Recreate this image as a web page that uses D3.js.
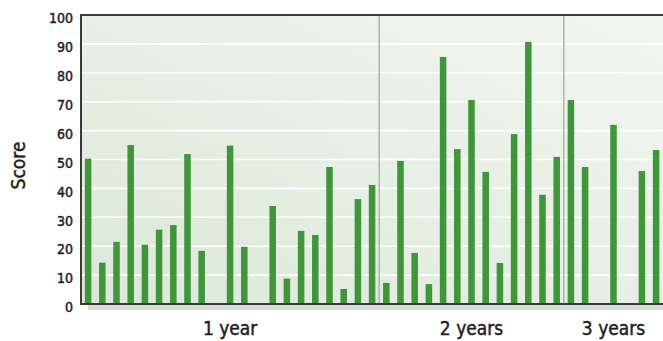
<!DOCTYPE html>
<html>
<head>
<meta charset="utf-8">
<script src="https://cdn.jsdelivr.net/npm/d3@7"></script>
<style>
  html, body { margin: 0; padding: 0; background: #fff; }
  svg { display: block; }
  text {
    font-family: "DejaVu Sans Condensed", "DejaVu Sans", sans-serif;
    fill: #1e1e1e;
    stroke: #1e1e1e;
    stroke-width: 0.45px;
  }
</style>
</head>
<body>
<svg id="chart" width="663" height="341"></svg>
<script>
// Follow-up period of each bar slot (empty slots have a null score)
const periods = ["1 year", "2 years", "3 years"];
const periodOfBar = [
  "1 year","1 year","1 year","1 year","1 year","1 year","1 year","1 year","1 year","1 year","1 year",
  "1 year","1 year","1 year","1 year","1 year","1 year","1 year","1 year","1 year","1 year",
  "2 years","2 years","2 years","2 years","2 years","2 years","2 years","2 years","2 years","2 years",
  "2 years","2 years","2 years",
  "3 years","3 years","3 years","3 years","3 years","3 years","3 years"
];
const scores = [
  50.3, 14.3, 21.5, 55.0, 20.5, 25.7, 27.3, 51.9, 18.4, null, 54.8,
  19.8, null, 33.9, 8.8, 25.3, 23.9, 47.4, 5.2, 36.3, 41.2,
  7.3, 49.5, 17.7, 6.9, 85.5, 53.6, 70.6, 45.7, 14.2, 58.8,
  90.7, 37.8, 50.9,
  70.6, 47.4, null, 62.0, null, 46.0, 53.3
];
const yTicks = [0, 10, 20, 30, 40, 50, 60, 70, 80, 90, 100];
const yTitle = "Score";

const svg = d3.select("#chart");
const plot = { left: 81, top: 15, bottom: 304, step: 14.2 };
plot.right = plot.left + plot.step * scores.length;

const slotIds = scores.map((_, i) => i);
const x = d3.scaleBand()
  .domain(slotIds)
  .range([plot.left, plot.right])
  .paddingInner(0.54)
  .paddingOuter(0.27);
const y = d3.scaleLinear().domain([0, 100]).range([plot.bottom, plot.top]);

// Background gradient
const defs = svg.append("defs");
const grad = defs.append("linearGradient")
  .attr("id", "bg").attr("x1", 0).attr("y1", 1).attr("x2", 1).attr("y2", 0);
grad.append("stop").attr("offset", "0%").attr("stop-color", "#dbe8d8");
grad.append("stop").attr("offset", "100%").attr("stop-color", "#f2f7f0");

// Shadow strip under the axis
svg.append("rect")
  .attr("x", 88).attr("y", plot.bottom + 1)
  .attr("width", 663 - 88 + 10).attr("height", 5)
  .attr("fill", "#d9d9d9");

svg.append("rect")
  .attr("x", plot.left).attr("y", plot.top)
  .attr("width", plot.right - plot.left + 10).attr("height", plot.bottom - plot.top)
  .attr("fill", "url(#bg)");

// Gridlines
svg.append("g")
  .selectAll("line")
  .data(yTicks.filter(t => t > 0 && t < 100))
  .join("line")
  .attr("x1", plot.left).attr("x2", plot.right + 10)
  .attr("y1", d => y(d)).attr("y2", d => y(d))
  .attr("stroke", "#ffffff").attr("stroke-width", 1.6);

// Period dividers
const groupBounds = periods.map(p => {
  const idx = slotIds.filter(i => periodOfBar[i] === p);
  const halfGap = x.step() * x.paddingInner() / 2;
  return {
    name: p,
    x0: x(idx[0]) - halfGap,
    x1: x(idx[idx.length - 1]) + x.bandwidth() + halfGap
  };
});
svg.append("g")
  .selectAll("line")
  .data(groupBounds.slice(1))
  .join("line")
  .attr("x1", d => d.x0).attr("x2", d => d.x0)
  .attr("y1", plot.top).attr("y2", plot.bottom)
  .attr("stroke", "#b4b4b4").attr("stroke-width", 1.6);

// Bars
svg.append("g")
  .selectAll("rect")
  .data(slotIds.filter(i => scores[i] != null))
  .join("rect")
  .attr("x", i => x(i))
  .attr("width", x.bandwidth())
  .attr("y", i => y(scores[i]))
  .attr("height", i => y(0) - y(scores[i]))
  .attr("fill", "#40963a");

// Frame: top, left and baseline
const frame = svg.append("g").attr("stroke", "#3a3a3a").attr("stroke-width", 2);
frame.append("line").attr("x1", plot.left - 1).attr("x2", 663).attr("y1", plot.top).attr("y2", plot.top);
frame.append("line").attr("x1", plot.left).attr("x2", plot.left).attr("y1", plot.top).attr("y2", plot.bottom);
frame.append("line").attr("x1", plot.left - 1).attr("x2", 663).attr("y1", plot.bottom).attr("y2", plot.bottom);

// Y axis labels
const yAxis = d3.axisLeft(y).tickValues(yTicks).tickSize(0).tickPadding(8);
const yg = svg.append("g").attr("transform", `translate(${plot.left},0)`).call(yAxis);
yg.select(".domain").remove();
yg.selectAll("text")
  .attr("dy", "0.55em")
  .style("font-size", "14px")
  .style("font-family", "\"DejaVu Sans Condensed\", sans-serif")
  .attr("fill", "#1e1e1e");

svg.append("text")
  .attr("transform", `translate(25,165.5) rotate(-90)`)
  .attr("text-anchor", "middle")
  .style("font-size", "19px")
  .text(yTitle);

// Period labels
svg.append("g")
  .selectAll("text")
  .data(groupBounds)
  .join("text")
  .attr("x", d => (d.x0 + d.x1) / 2)
  .attr("y", 335)
  .attr("text-anchor", "middle")
  .style("font-size", "19px")
  .text(d => d.name);
</script>
</body>
</html>
